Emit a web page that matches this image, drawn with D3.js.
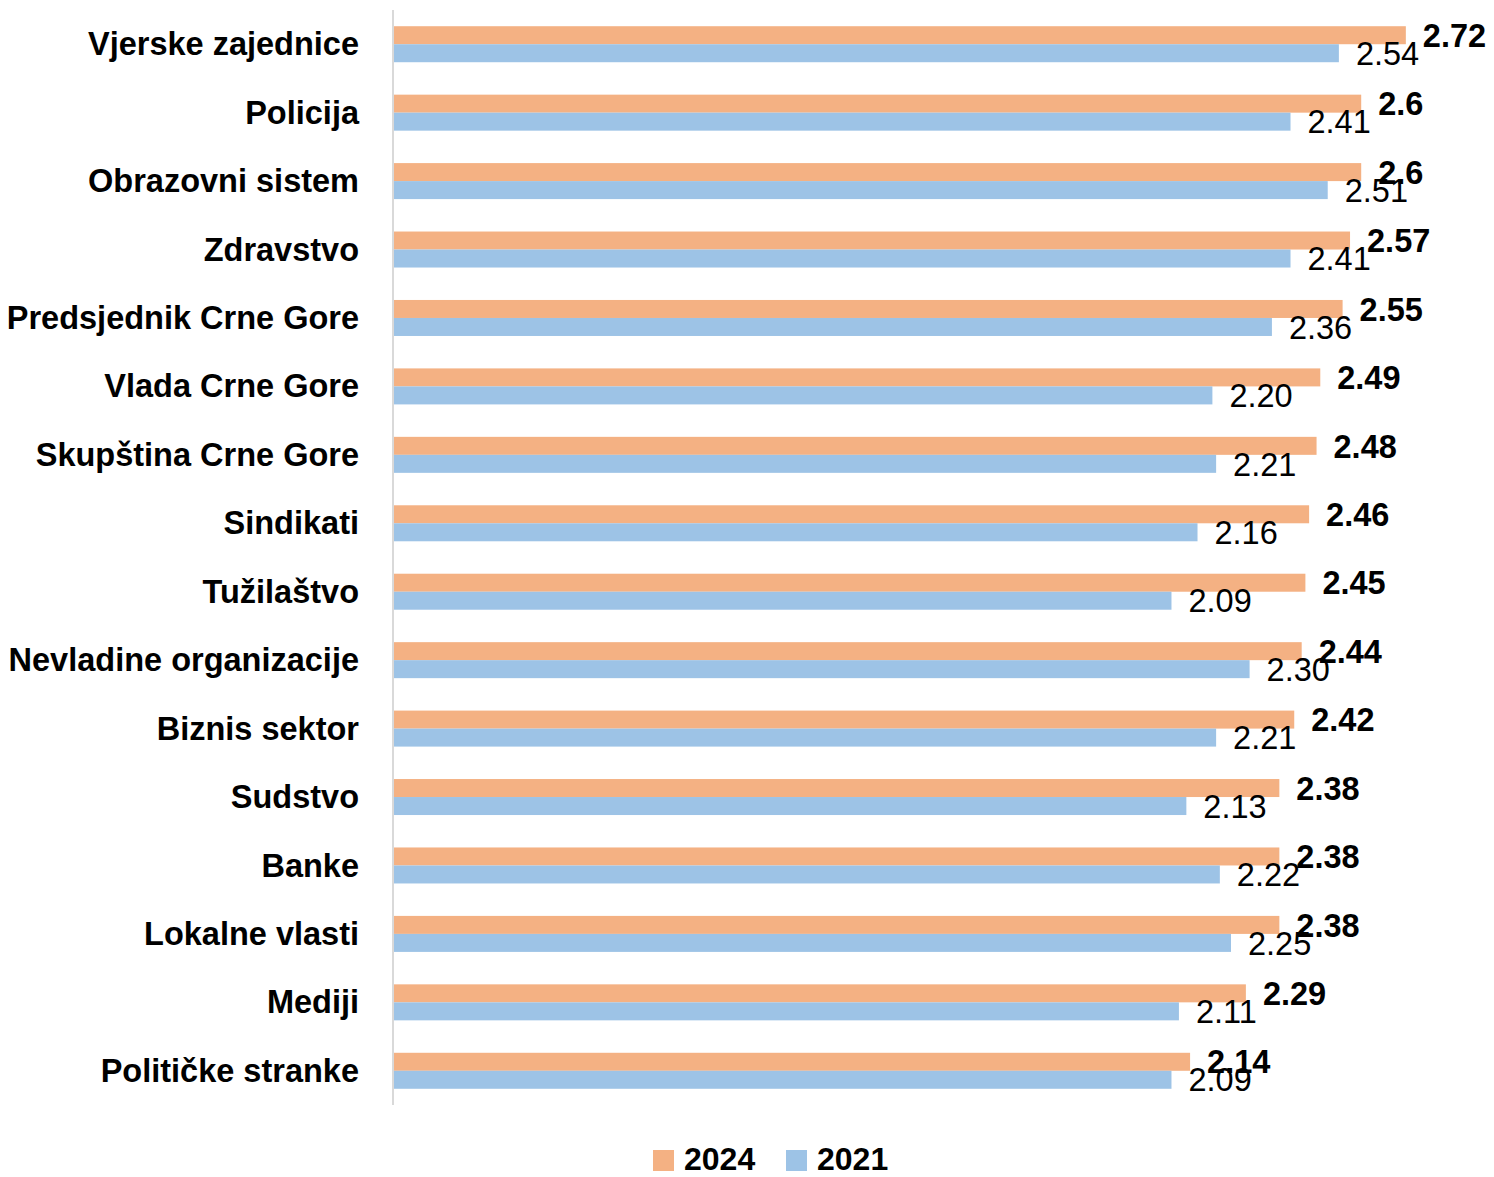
<!DOCTYPE html>
<html>
<head>
<meta charset="utf-8">
<script src="https://cdn.jsdelivr.net/npm/d3@7"></script>
<style>
  body { margin: 0; background: #fff; }
  svg { display: block; font-family: "Liberation Sans", Arial, sans-serif; }
</style>
</head>
<body>
<svg id="chart" width="1494" height="1177"></svg>
<script>
// data
const categories = [
    "Vjerske zajednice", "Policija", "Obrazovni sistem", "Zdravstvo",
    "Predsjednik Crne Gore", "Vlada Crne Gore", "Skupština Crne Gore", "Sindikati",
    "Tužilaštvo", "Nevladine organizacije", "Biznis sektor", "Sudstvo",
    "Banke", "Lokalne vlasti", "Mediji", "Političke stranke"
];
const values2024 = [2.72, 2.6, 2.6, 2.57, 2.55, 2.49, 2.48, 2.46, 2.45, 2.44, 2.42, 2.38, 2.38, 2.38, 2.29, 2.14];
const values2021 = [2.54, 2.41, 2.51, 2.41, 2.36, 2.20, 2.21, 2.16, 2.09, 2.30, 2.21, 2.13, 2.22, 2.25, 2.11, 2.09];
const seriesNames = ["2024", "2021"];

const colours = { "2024": "#F4B183", "2021": "#9DC3E6" };

let rows = categories.map(function(c, i) {
    return { name: c, "2024": values2024[i], "2021": values2021[i] };
});

let svg = d3.select("#chart");

let x = d3.scaleLinear()
    .domain([0, 2.8])
    .range([394, 394 + 2.8 * 372]);

let y = d3.scaleBand()
    .domain(categories)
    .range([10, 1105])
    .paddingInner(0.474)
    .paddingOuter(0.237);

let ySub = d3.scaleBand()
    .domain(seriesNames)
    .range([0, y.bandwidth()]);

let fmt = {
    "2024": d3.format("~g"),
    "2021": d3.format(".2f")
};

let groups = svg.selectAll("g.row")
    .data(rows)
    .enter()
    .append("g")
    .attr("class", "row")
    .attr("transform", function(d) { return "translate(0," + y(d.name) + ")"; });

seriesNames.forEach(function(s) {
    groups.append("rect")
        .attr("x", x(0))
        .attr("y", ySub(s))
        .attr("width", function(d) { return x(d[s]) - x(0); })
        .attr("height", ySub.bandwidth())
        .attr("fill", colours[s]);

    groups.append("text")
        .attr("x", function(d) { return x(d[s]) + 17; })
        .attr("y", ySub(s) + ySub.bandwidth() / 2)
        .attr("dy", "0.36em")
        .attr("font-size", 32.5)
        .attr("font-weight", s == "2024" ? "bold" : "normal")
        .attr("fill", "#000")
        .text(function(d) { return fmt[s](d[s]); });
});

// category axis on the left
let yAxis = d3.axisLeft(y).tickSize(0).tickPadding(35);
let axisG = svg.append("g")
    .attr("transform", "translate(" + x(0) + ",0)")
    .call(yAxis);
axisG.select(".domain").remove();
axisG.selectAll("text")
    .attr("font-size", 32.5)
    .attr("font-weight", "bold")
    .attr("font-family", "Liberation Sans, Arial, sans-serif")
    .attr("fill", "#000")
    .attr("dy", "0.34em");

svg.append("line")
    .attr("x1", x(0) - 1).attr("x2", x(0) - 1)
    .attr("y1", 10).attr("y2", 1105)
    .attr("stroke", "#D9D9D9")
    .attr("stroke-width", 2);

// legend
let legend = svg.append("g");
let legendX = [653, 786];
seriesNames.forEach(function(s, i) {
    legend.append("rect")
        .attr("x", legendX[i]).attr("y", 1150)
        .attr("width", 21).attr("height", 21)
        .attr("fill", colours[s]);
    legend.append("text")
        .attr("x", legendX[i] + 31).attr("y", 1170)
        .attr("font-size", 32)
        .attr("font-weight", "bold")
        .text(s);
});
</script>
</body>
</html>
